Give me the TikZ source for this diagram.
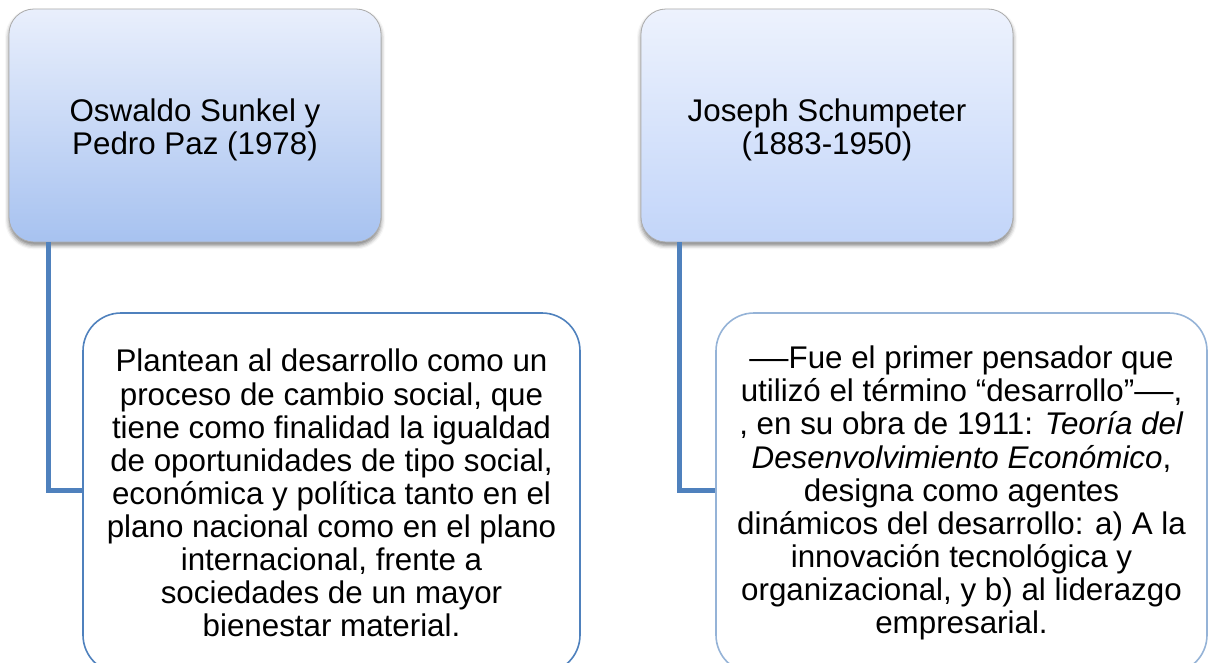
\documentclass[tikz,border=0pt]{standalone}
\usepackage{fontspec}
\setmainfont{Liberation Sans}
\usetikzlibrary{shadows.blur}
\definecolor{connblue}{RGB}{79,129,189}
\definecolor{lightedge}{RGB}{149,179,215}
\definecolor{ltop}{RGB}{233,239,252}
\definecolor{lbot}{RGB}{167,194,240}
\definecolor{rtop}{RGB}{237,242,253}
\definecolor{rbot}{RGB}{194,213,249}
\newcommand{\widedash}{\scalebox{1.25}[1]{—}}
\begin{document}
\begin{tikzpicture}[x=0.75pt,y=-0.75pt,
  every node/.style={font=\fontsize{23.5}{24.8}\selectfont, align=center, text=black},
  topbox/.style={rectangle, rounded corners=18.75pt, draw=gray!65, line width=0.6pt,
    minimum width=279pt, minimum height=174.75pt, inner sep=0pt,
    blur shadow={shadow xshift=0pt, shadow yshift=-2.5pt, shadow blur radius=3pt, shadow opacity=50}},
  botbox/.style={rectangle, rounded corners=28.5pt, fill=white, line width=1.2pt,
    minimum height=270pt, inner sep=0pt},
  connector/.style={draw=connblue, line width=3.75pt}
]
\useasboundingbox (0,0) rectangle (1210,662);
\clip (0,0) rectangle (1210,662);

\node[topbox, top color=ltop, bottom color=lbot] (tl) at (195,125.5) {};
\node (tltext) at (195,130) {Oswaldo Sunkel y\\Pedro Paz (1978)};
\node[topbox, top color=rtop, bottom color=rbot] (tr) at (827,125.5) {};
\node (trtext) at (827,130) {Joseph Schumpeter\\(1883-1950)};

\node[botbox, draw=connblue, minimum width=372.75pt] (bl) at (331.5,493)
  {Plantean al desarrollo como un\\
   proceso de cambio social, que\\
   tiene como finalidad la igualdad\\
   de oportunidades de tipo social,\\
   económica y política tanto en el\\
   plano nacional como en el plano\\
   internacional, frente a\\
   sociedades de un mayor\\
   bienestar material.};
\node[botbox, draw=lightedge, minimum width=368.25pt] (br) at (961.5,493)
  {\widedash Fue el primer pensador que\\
   utilizó el término “desarrollo”\widedash,\\
   , en su obra de 1911: \textit{Teoría del}\\
   \textit{Desenvolvimiento Económico},\\
   designa como agentes\\
   dinámicos del desarrollo: a) A la\\
   innovación tecnológica y\\
   organizacional, y b) al liderazgo\\
   empresarial.};

\coordinate (j1) at (48,490);
\coordinate (j2) at (679,490);
\draw[connector] (tl.south -| j1) |- (bl.west |- j1);
\draw[connector] (tr.south -| j2) |- (br.west |- j2);
\end{tikzpicture}
\end{document}
